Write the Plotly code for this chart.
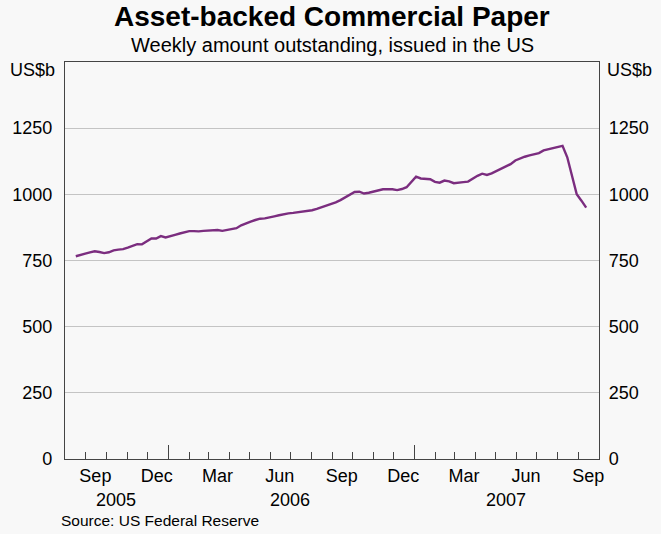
import pandas as pd
import plotly.graph_objects as go

# Weekly data, Wednesday observations, Aug 2005 - Sep 2007 (US$b)
start_date = "2005-08-17"
abcp_values = [
    766, 770, 776, 781, 785, 782, 778, 781, 788, 791,
    793, 799, 807, 812, 811, 821, 833, 833, 842, 837,
    841, 847, 852, 857, 861, 861, 860, 862, 863, 864,
    865, 862, 866, 870, 872, 883, 891, 897, 903, 908,
    909, 912, 917, 921, 925, 928, 930, 932, 935, 938,
    940, 945, 951, 957, 963, 970, 978, 988, 1000, 1009,
    1010, 1003, 1006, 1011, 1016, 1019, 1019, 1019, 1016, 1020,
    1027, 1045, 1067, 1060, 1059, 1057, 1047, 1044, 1052, 1049,
    1042, 1043, 1046, 1048, 1060, 1070, 1078, 1073, 1079, 1088,
    1098, 1107, 1114, 1128, 1136, 1142, 1147, 1151, 1156, 1166,
    1170, 1176, 1180, 1183, 1140, 1072, 1000, 976, 950,
]
dates = pd.date_range(start_date, periods=len(abcp_values), freq="7D")

x_range = ["2005-08-01", "2007-10-01"]
y_range = [0, 1500]
y_ticks = [0, 250, 500, 750, 1000, 1250]
month_ticks = [d.strftime("%Y-%m-%d")
               for d in pd.date_range("2005-09-01", "2007-09-01", freq="MS")]
year_ticks = ["2006-01-01", "2007-01-01"]
month_label_dates = ["2005-09-15", "2005-12-15", "2006-03-15", "2006-06-15",
                     "2006-09-15", "2006-12-15", "2007-03-15", "2007-06-15",
                     "2007-09-15"]
month_labels = ["Sep", "Dec", "Mar", "Jun", "Sep", "Dec", "Mar", "Jun", "Sep"]
year_labels = ["2005", "2006", "2007"]
year_label_dates = ["2005-10-16", "2006-07-01", "2007-05-16"]

FONT = "Liberation Sans, Arial, sans-serif"
BG = "#f8f8f8"
AXC = "#444444"
LINE = "#7b2d7f"
TS = 18

fig = go.Figure()
fig.add_trace(go.Scatter(x=dates, y=abcp_values, mode="lines",
                         line=dict(color=LINE, width=2.4),
                         xaxis="x", yaxis="y", showlegend=False))
# invisible copies to activate the overlay axes
for xa, ya in (("x2", "y2"), ("x3", "y")):
    fig.add_trace(go.Scatter(x=dates, y=abcp_values, mode="lines",
                             line=dict(color="rgba(0,0,0,0)", width=0),
                             xaxis=xa, yaxis=ya, showlegend=False,
                             hoverinfo="skip"))

annotations = [
    dict(text="<b>Asset-backed Commercial Paper</b>", x=0.5, y=1.1134,
         xref="paper", yref="paper", showarrow=False, xanchor="center",
         yanchor="middle", font=dict(size=28, family=FONT, color="#000")),
    dict(text="Weekly amount outstanding, issued in the US", x=0.5, y=1.0428,
         xref="paper", yref="paper", showarrow=False, xanchor="center",
         yanchor="middle", font=dict(size=20, family=FONT, color="#000")),
    dict(text="US$b", x=-0.0149, y=0.98, xref="paper", yref="paper",
         showarrow=False, xanchor="right", yanchor="middle",
         font=dict(size=TS, family=FONT, color="#000")),
    dict(text="US$b", x=1.011, y=0.98, xref="paper", yref="paper",
         showarrow=False, xanchor="left", yanchor="middle",
         font=dict(size=TS, family=FONT, color="#000")),
    dict(text="Source: US Federal Reserve", x=-0.011, y=-0.156, xref="paper",
         yref="paper", showarrow=False, xanchor="left", yanchor="middle",
         font=dict(size=15.5, family=FONT, color="#000")),
]
for lab, d in zip(year_labels, year_label_dates):
    annotations.append(dict(text=lab, x=d, y=-0.103, xref="x", yref="paper",
                            showarrow=False, xanchor="center", yanchor="middle",
                            font=dict(size=TS, family=FONT, color="#000")))

fig.update_layout(
    width=661, height=534,
    margin=dict(l=61, r=62, t=62, b=75),
    paper_bgcolor=BG, plot_bgcolor=BG,
    font=dict(family=FONT, size=TS, color="#000"),
    showlegend=False,
    annotations=annotations,
    xaxis=dict(
        type="date", range=x_range, tickmode="array", tickvals=month_ticks,
        ticks="inside", ticklen=7, tickwidth=1.4, tickcolor=AXC,
        showticklabels=False, showgrid=False, zeroline=False,
        showline=True, linecolor=AXC, linewidth=1.3, mirror=True,
    ),
    xaxis3=dict(
        type="date", range=x_range, overlaying="x", side="bottom",
        tickmode="array", tickvals=year_ticks, ticks="inside", ticklen=14,
        tickwidth=1.4, tickcolor=AXC, showticklabels=False, showgrid=False,
        zeroline=False, showline=False,
    ),
    xaxis2=dict(
        type="date", range=x_range, overlaying="x", side="bottom",
        tickmode="array", tickvals=month_label_dates, ticktext=month_labels,
        ticks="", showgrid=False, zeroline=False, showline=False,
        tickfont=dict(size=TS, family=FONT, color="#000"),
        ticklabelstandoff=4,
    ),
    yaxis=dict(
        range=y_range, tickmode="array", tickvals=y_ticks, ticks="",
        showgrid=True, gridcolor="#c4c4c4", gridwidth=1.4, zeroline=False,
        showline=True, linecolor=AXC, linewidth=1.3,
        tickfont=dict(size=TS, family=FONT, color="#000"),
        ticklabelstandoff=8,
    ),
    yaxis2=dict(
        range=y_range, overlaying="y", side="right", tickmode="array",
        tickvals=y_ticks, ticks="", showgrid=False, zeroline=False,
        showline=True, linecolor=AXC, linewidth=1.3,
        tickfont=dict(size=TS, family=FONT, color="#000"),
        ticklabelstandoff=5,
    ),
)

fig.write_html("out.html",
               config={"displayModeBar": False},
               post_script="document.body.style.margin='0px';"
                           "document.body.style.background='#f8f8f8';")
